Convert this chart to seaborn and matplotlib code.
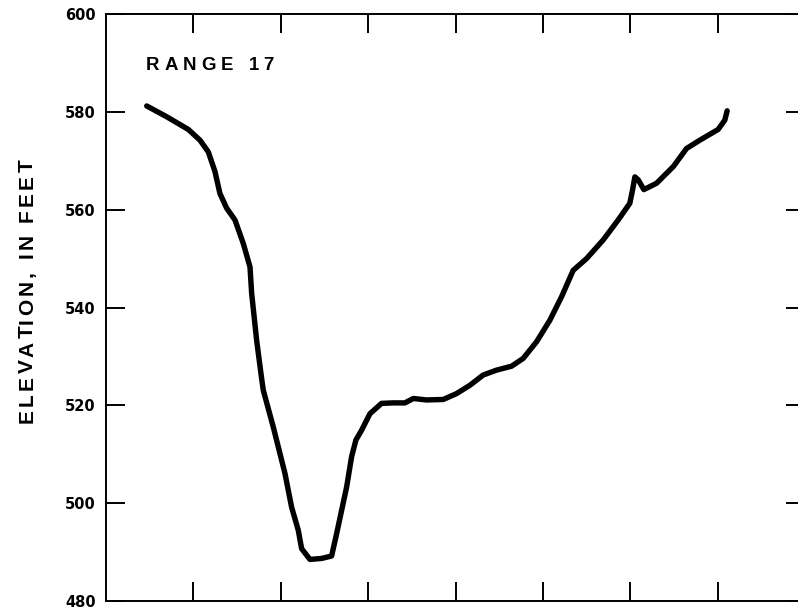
import matplotlib
matplotlib.use("Agg")
import matplotlib.pyplot as plt
import seaborn as sns
import pandas as pd

# Channel cross-section, range 17
distance_ft = [46.6, 69.4, 94.2, 107.6, 117.1, 124.7, 130.4, 138.1, 147.6, 157.1,
               164.8, 166.7, 172.4, 178.1, 180.0, 191.4, 204.8, 212.4, 220.0, 223.9,
               233.4, 246.8, 258.2, 264.0, 275.4, 281.1, 286.0, 292.5, 302.1, 315.4,
               328.8, 342.1, 351.7, 366.9, 386.0, 401.2, 416.5, 431.7, 447.0, 464.2,
               477.5, 492.8, 508.0, 521.4, 534.7, 550.0, 569.0, 586.2, 599.5, 602.6,
               605.3, 609.1, 615.6, 630.1, 649.2, 664.4, 679.6, 700.6, 708.2, 710.9]
elevation_ft = [581.2, 579.0, 576.4, 574.2, 571.8, 567.8, 563.3, 560.3, 557.9, 553.1,
                548.3, 542.9, 533.3, 525.5, 523.1, 515.6, 506.1, 499.2, 494.5, 490.7,
                488.5, 488.7, 489.2, 493.8, 503.3, 509.5, 512.9, 514.9, 518.3, 520.4,
                520.5, 520.5, 521.4, 521.1, 521.2, 522.4, 524.1, 526.2, 527.2, 528.0,
                529.6, 533.0, 537.4, 542.2, 547.6, 550.0, 553.8, 557.9, 561.3, 564.0,
                566.7, 566.1, 564.1, 565.4, 568.8, 572.5, 574.2, 576.4, 578.3, 580.2]
y_ticks = [480, 500, 520, 540, 560, 580, 600]
x_ticks = [100, 200, 300, 400, 500, 600, 700]

df = pd.DataFrame({"distance": distance_ft, "elevation": elevation_ft})

sns.set_theme(style="ticks")
plt.rcParams["font.family"] = ["Liberation Sans", "DejaVu Sans"]
plt.rcParams["text.color"] = "black"
plt.rcParams["xtick.color"] = "black"
plt.rcParams["ytick.color"] = "black"
plt.rcParams["axes.labelcolor"] = "black"

W, H = 798, 614
fig = plt.figure(figsize=(W / 100, H / 100), dpi=100)
ax = fig.add_axes([106 / W, (H - 601) / H, (805 - 106) / W, (601 - 14) / H])

sns.lineplot(data=df, x="distance", y="elevation", ax=ax, sort=False,
             estimator=None, color="black", linewidth=3.9,
             solid_capstyle="round", solid_joinstyle="round")

ax.set_xlim(0, 800)
ax.set_ylim(480, 600)
ax.set_xticks(x_ticks)
ax.set_yticks(y_ticks)
ax.set_xticklabels([])
ax.set_yticklabels([str(v) for v in y_ticks], fontsize=10.5, fontweight="bold",
                   family="DejaVu Sans")
ax.tick_params(axis="both", direction="in", length=14, width=1.4, color="black",
               top=True, bottom=True, left=True, right=True)
ax.tick_params(axis="y", pad=7.5)
ax.set_xlabel("")
ax.set_ylabel("")
for sp in ax.spines.values():
    sp.set_visible(True)
    sp.set_linewidth(1.4)
    sp.set_color("black")

renderer = fig.canvas.get_renderer()


def char_width(ch, size, weight):
    # advance width of a single character, in pixels
    t1 = fig.text(0, 0, "a" + ch + "a", size=size, weight=weight)
    t2 = fig.text(0, 0, "aa", size=size, weight=weight)
    w = t1.get_window_extent(renderer).width - t2.get_window_extent(renderer).width
    t1.remove()
    t2.remove()
    return w


def tracked_text(x_px, y_px, s, size, track_px, weight="bold", vertical=False):
    # draw text letter by letter with extra tracking; (x_px, y_px) is the
    # baseline start, measured from the top-left corner
    pos = 0.0
    for ch in s:
        w = char_width(ch, size, weight)
        if vertical:
            fig.text(x_px / W, (H - (y_px - pos)) / H, ch, size=size,
                     weight=weight, rotation=90, ha="left", va="baseline",
                     rotation_mode="anchor")
        else:
            fig.text((x_px + pos) / W, (H - y_px) / H, ch, size=size,
                     weight=weight, ha="left", va="baseline")
        pos += w + track_px


tracked_text(146, 70.5, "RANGE 17", 13.4, 5.0)
tracked_text(33, 423, "ELEVATION, IN FEET", 15, 3.3, vertical=True)

fig.savefig("out.png", dpi=100)
